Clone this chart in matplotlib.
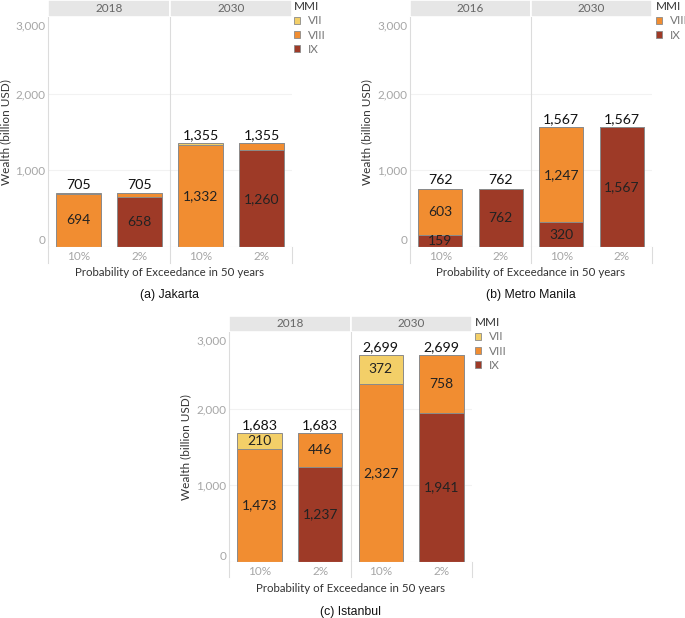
import matplotlib
matplotlib.use('Agg')
import matplotlib.pyplot as plt
from matplotlib.patches import Rectangle, Patch
from matplotlib.transforms import ScaledTranslation

plt.rcParams['font.family'] = ['Lato', 'DejaVu Sans']

W, H = 685, 618
fig = plt.figure(figsize=(W / 100, H / 100), dpi=100)

# ---------------- data ----------------
categories = ['10%', '2%', '10%', '2%']
mmi_levels = ['VII', 'VIII', 'IX']
mmi_colors = {'VII': '#f3cf68', 'VIII': '#f18d31', 'IX': '#9e3a27'}
y_ticks = [0, 1000, 2000, 3000]

jakarta_years = ['2018', '2030']
jakarta_VII = [11, 0, 23, 0]
jakarta_VIII = [694, 47, 1332, 95]
jakarta_IX = [0, 658, 0, 1260]
jakarta_totals = [705, 705, 1355, 1355]

manila_years = ['2016', '2030']
manila_VII = [0, 0, 0, 0]
manila_VIII = [603, 0, 1247, 0]
manila_IX = [159, 762, 320, 1567]
manila_totals = [762, 762, 1567, 1567]

istanbul_years = ['2018', '2030']
istanbul_VII = [210, 0, 372, 0]
istanbul_VIII = [1473, 446, 2327, 758]
istanbul_IX = [0, 1237, 0, 1941]
istanbul_totals = [1683, 1683, 2699, 2699]

TXT = '#333333'
GRAY = '#a6a6a6'
LINE = '#dcdcdc'


def fx(x):
    return x / W


def fy(y):
    return 1 - y / H


def panel(x0, x1, yhead, yplot, yzero, yband, years, vii, viii, ix, totals,
          legend_levels, legend_xy, caption, cap_y, ylab_x, xlab_y):
    ax = fig.add_axes([fx(x0), fy(yzero), (x1 - x0) / W, (yzero - yplot) / H])
    ax.set_xlim(-0.5, 3.5)
    ax.set_ylim(0, 3000)
    ax.set_facecolor('white')
    for s in ['top', 'right', 'bottom']:
        ax.spines[s].set_visible(False)
    ax.spines['left'].set_color(LINE)
    ax.spines['left'].set_linewidth(0.8)

    band = (yband - yzero) / (yzero - yplot)
    for g in [1000, 2000]:
        ax.axhline(g, color='#f2f2f2', lw=0.8, zorder=0)
    ax.axhline(0, color=LINE, lw=0.8, zorder=3)
    ax.axvline(-0.5, ymin=-band, ymax=0, color=LINE, lw=0.8, clip_on=False)
    ax.axvline(1.5, ymin=-band, ymax=1, color=LINE, lw=0.8, clip_on=False)
    ax.axvline(3.5, ymin=-band, ymax=0, color=LINE, lw=0.8, clip_on=False)

    xs = list(range(len(categories)))
    bottom = [0] * len(xs)
    for lvl, vals in [('IX', ix), ('VIII', viii), ('VII', vii)]:
        ax.bar(xs, vals, bottom=bottom, width=0.73, color=mmi_colors[lvl],
               edgecolor='#8a8a8a', linewidth=0.7, zorder=2)
        for i, v in enumerate(vals):
            if v >= 150:
                ax.text(xs[i], bottom[i] + v / 2, f'{v:,}', ha='center',
                        va='center', fontsize=10, color='#222222', zorder=4)
        bottom = [b + v for b, v in zip(bottom, vals)]
    for i, t in enumerate(totals):
        ax.annotate(f'{t:,}', (xs[i], t), xytext=(0, 1.5),
                    textcoords='offset points', ha='center', va='bottom',
                    fontsize=10.2, fontweight='normal', color='#111111')

    ax.set_yticks(y_ticks)
    ax.set_yticklabels([f'{v:,}' for v in y_ticks])
    ax.set_xticks(xs)
    ax.set_xticklabels(categories)
    ax.tick_params(axis='both', length=0, labelsize=8.5, labelcolor=GRAY)
    ax.tick_params(axis='y', pad=2)
    ax.tick_params(axis='x', pad=3)
    ylabs = ax.get_yticklabels()
    ylabs[0].set_transform(ylabs[0].get_transform() +
                           ScaledTranslation(0, 7 / 100, fig.dpi_scale_trans))
    ylabs[-1].set_transform(ylabs[-1].get_transform() +
                            ScaledTranslation(0, -8 / 100, fig.dpi_scale_trans))

    ax.set_ylabel('Wealth (billion USD)', fontsize=8.5, color=TXT, va='center')
    ax.yaxis.set_label_coords((ylab_x - x0) / (x1 - x0), 0.5)
    ax.set_xlabel('Probability of Exceedance in 50 years', fontsize=8.3,
                  color=TXT, va='center')
    ax.xaxis.set_label_coords(0.5, -(xlab_y - yzero) / (yzero - yplot))

    # header
    hx = fig.add_axes([fx(x0), fy(yplot), (x1 - x0) / W, (yplot - yhead) / H])
    hx.set_xlim(-0.5, 3.5)
    hx.set_ylim(0, 1)
    hx.axis('off')
    for j, yr in enumerate(years):
        hx.add_patch(Rectangle((-0.5 + 2 * j, 0), 2, 1, facecolor='#e6e6e6',
                               edgecolor='white', linewidth=1.2))
        hx.text(0.5 + 2 * j, 0.5, yr, ha='center', va='center', fontsize=8.5,
                color='#666666')

    handles = [Patch(facecolor=mmi_colors[l], edgecolor='#8a8a8a', linewidth=0.6)
               for l in legend_levels]
    leg = fig.legend(handles, legend_levels, title='MMI', loc='upper left',
                     bbox_to_anchor=(fx(legend_xy[0]), fy(legend_xy[1])),
                     bbox_transform=fig.transFigure, frameon=False,
                     fontsize=8.5, title_fontsize=8.5, handlelength=0.55,
                     handleheight=0.55, handletextpad=0.6, labelspacing=0.28,
                     borderpad=0, borderaxespad=0, alignment='left')
    leg.get_title().set_color(TXT)
    for t in leg.get_texts():
        t.set_color('#777777')

    fig.text(fx((x0 + x1) / 2), fy(cap_y), caption, ha='center', va='center',
             fontsize=8.8, color='#111111', family='Liberation Sans')
    return ax


panel(48, 292, 0, 17, 247, 263, jakarta_years, jakarta_VII, jakarta_VIII,
      jakarta_IX, jakarta_totals, ['VII', 'VIII', 'IX'], (294, 1),
      '(a) Jakarta', 295, 6, 273)
panel(410, 652, 0, 17, 247, 263, manila_years, manila_VII, manila_VIII,
      manila_IX, manila_totals, ['VIII', 'IX'], (656, 1),
      '(b) Metro Manila', 295, 367, 273)
panel(229, 472, 316, 332, 562, 577, istanbul_years, istanbul_VII,
      istanbul_VIII, istanbul_IX, istanbul_totals, ['VII', 'VIII', 'IX'],
      (475, 317), '(c) Istanbul', 612, 186, 589)

fig.savefig('out.png', dpi=100)
